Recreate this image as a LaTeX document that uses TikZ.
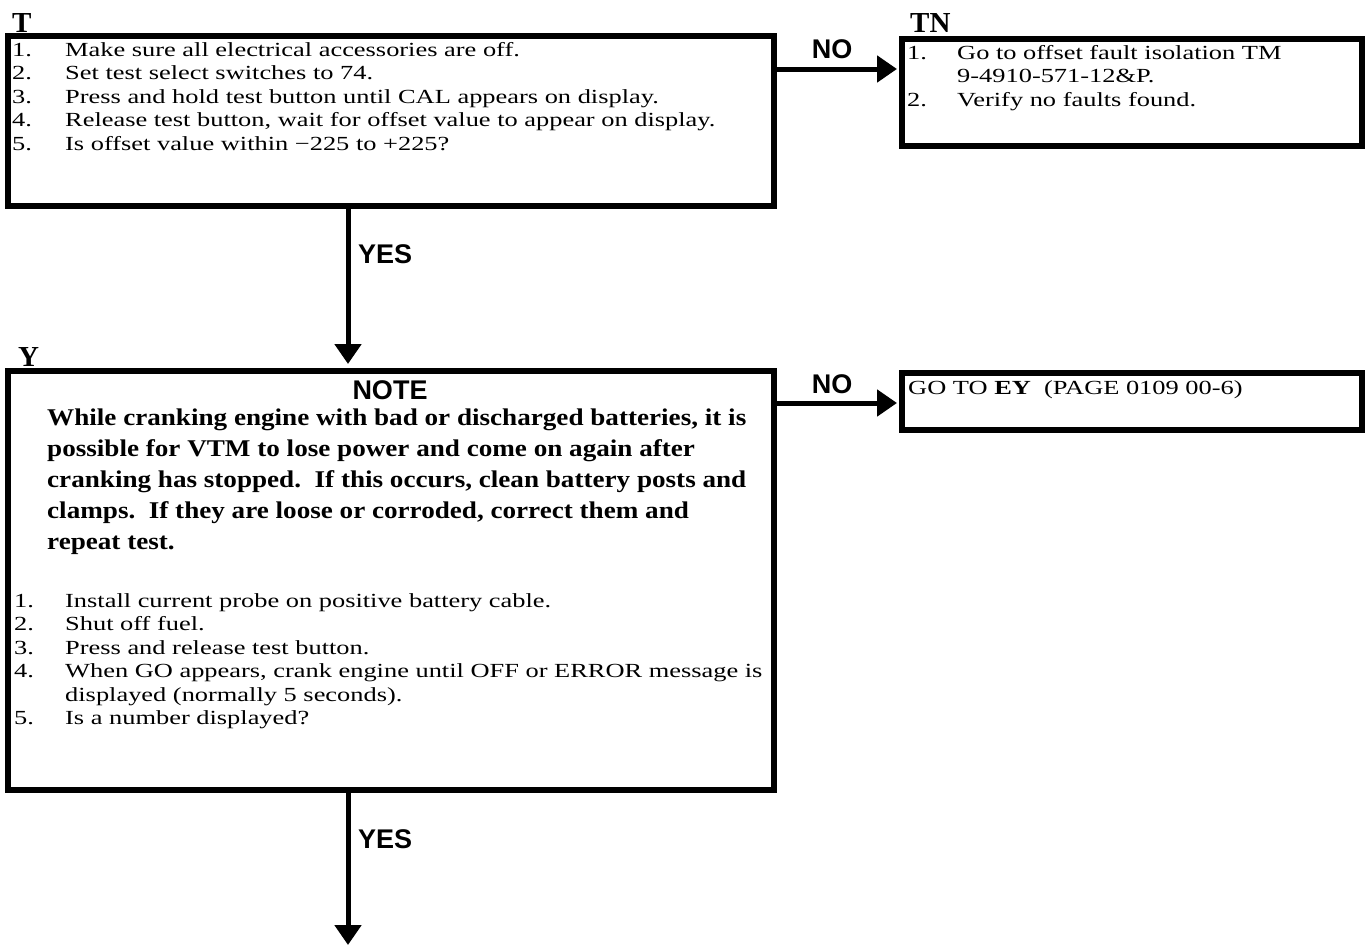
\documentclass[tikz,border=0pt]{standalone}
\usepackage{fontspec}
\usetikzlibrary{arrows.meta}
\newfontfamily\bodyfont{Liberation Serif}[FakeStretch=1.32]
\newfontfamily\notefont{Liberation Serif}[FakeStretch=1.13]
\newfontfamily\labelfont{Liberation Serif}
\newfontfamily\sansfont{Liberation Sans}
\tikzset{
  box/.style={draw, line width=6pt, rectangle, inner sep=0pt},
  txt/.style={anchor=base west, inner sep=0pt, font=\bodyfont\fontsize{20}{23.5}\selectfont},
  notetxt/.style={anchor=base west, inner sep=0pt, font=\notefont\bfseries\fontsize{24}{31}\selectfont},
  boxlabel/.style={anchor=base west, inner sep=0pt, font=\labelfont\bfseries\fontsize{29}{33}\selectfont},
  decision/.style={anchor=base, inner sep=0pt, font=\sansfont\bfseries\fontsize{27}{30}\selectfont},
  yeslabel/.style={anchor=base west, inner sep=0pt, font=\sansfont\bfseries\fontsize{27}{30}\selectfont},
  arr/.style={line width=5pt, -{Triangle[length=20pt,width=26pt]}}
}
\begin{document}
\begin{tikzpicture}[x=1pt,y=-1pt]
\useasboundingbox (0,0) rectangle (1372,945);

% ---------- boxes ----------
\node[box, minimum width=766pt, minimum height=170pt] (T) at (391,121) {};
\node[box, minimum width=460pt, minimum height=107pt] (TN) at (1132,92) {};
\node[box, minimum width=766pt, minimum height=419pt] (Y) at (391,580.5) {};
\node[box, minimum width=460pt, minimum height=57pt] (GO) at (1132,401) {};

% ---------- box labels ----------
\node[boxlabel] (labT) at (12,32) {T};
\node[boxlabel] (labTN) at (910,32) {TN};
\node[boxlabel] (labY) at (18,366) {Y};

% ---------- T box text ----------
\node[txt] (t1n) at (12,56) {1.};
\node[txt] (t1) at (65,56) {Make sure all electrical accessories are off.};
\node[txt] (t2n) at (12,79.5) {2.};
\node[txt] (t2) at (65,79.5) {Set test select switches to 74.};
\node[txt] (t3n) at (12,103) {3.};
\node[txt] (t3) at (65,103) {Press and hold test button until CAL appears on display.};
\node[txt] (t4n) at (12,126.5) {4.};
\node[txt] (t4) at (65,126.5) {Release test button, wait for offset value to appear on display.};
\node[txt] (t5n) at (12,150) {5.};
\node[txt] (t5) at (65,150) {Is offset value within −225 to +225?};

% ---------- TN box text ----------
\node[txt] (tn1n) at (907,59) {1.};
\node[txt] (tn1) at (957,59) {Go to offset fault isolation TM};
\node[txt] (tn1b) at (957,82.5) {9-4910-571-12\&P.};
\node[txt] (tn2n) at (907,106) {2.};
\node[txt] (tn2) at (957,106) {Verify no faults found.};

% ---------- GO box text ----------
\node[txt] (go) at (908,394) {GO TO \textbf{EY}\ \ (PAGE 0109 00-6)};

% ---------- Y box text ----------
\node[decision] (note) at (390,399) {NOTE};
\node[notetxt] (n1) at (47,425) {While cranking engine with bad or discharged batteries, it is};
\node[notetxt] (n2) at (47,456) {possible for VTM to lose power and come on again after};
\node[notetxt] (n3) at (47,487) {cranking has stopped.\ \ If this occurs, clean battery posts and};
\node[notetxt] (n4) at (47,518) {clamps.\ \ If they are loose or corroded, correct them and};
\node[notetxt] (n5) at (47,549) {repeat test.};

\node[txt] (y1n) at (14,607) {1.};
\node[txt] (y1) at (65,607) {Install current probe on positive battery cable.};
\node[txt] (y2n) at (14,630.5) {2.};
\node[txt] (y2) at (65,630.5) {Shut off fuel.};
\node[txt] (y3n) at (14,654) {3.};
\node[txt] (y3) at (65,654) {Press and release test button.};
\node[txt] (y4n) at (14,677.5) {4.};
\node[txt] (y4) at (65,677.5) {When GO appears, crank engine until OFF or ERROR message is};
\node[txt] (y4b) at (65,701) {displayed (normally 5 seconds).};
\node[txt] (y5n) at (14,724.5) {5.};
\node[txt] (y5) at (65,724.5) {Is a number displayed?};

% ---------- connectors ----------
\coordinate (r1) at (0,69);
\coordinate (r2) at (0,403);
\coordinate (v1) at (348,0);
\coordinate (bottomend) at (348,945);

\draw[arr, shorten >=2pt] (T.east |- r1) -- (TN.west |- r1);
\draw[arr, shorten >=2pt] (Y.east |- r2) -- (GO.west |- r2);
\draw[arr, shorten >=4pt] (T.south -| v1) -- (Y.north -| v1);
\draw[arr] (Y.south -| v1) -- (bottomend);

% ---------- decision labels ----------
\node[decision] (no1) at (832,58) {NO};
\node[decision] (no2) at (832,393) {NO};
\node[yeslabel] (yes1) at (358,263) {YES};
\node[yeslabel] (yes2) at (358,848) {YES};
\end{tikzpicture}
\end{document}
